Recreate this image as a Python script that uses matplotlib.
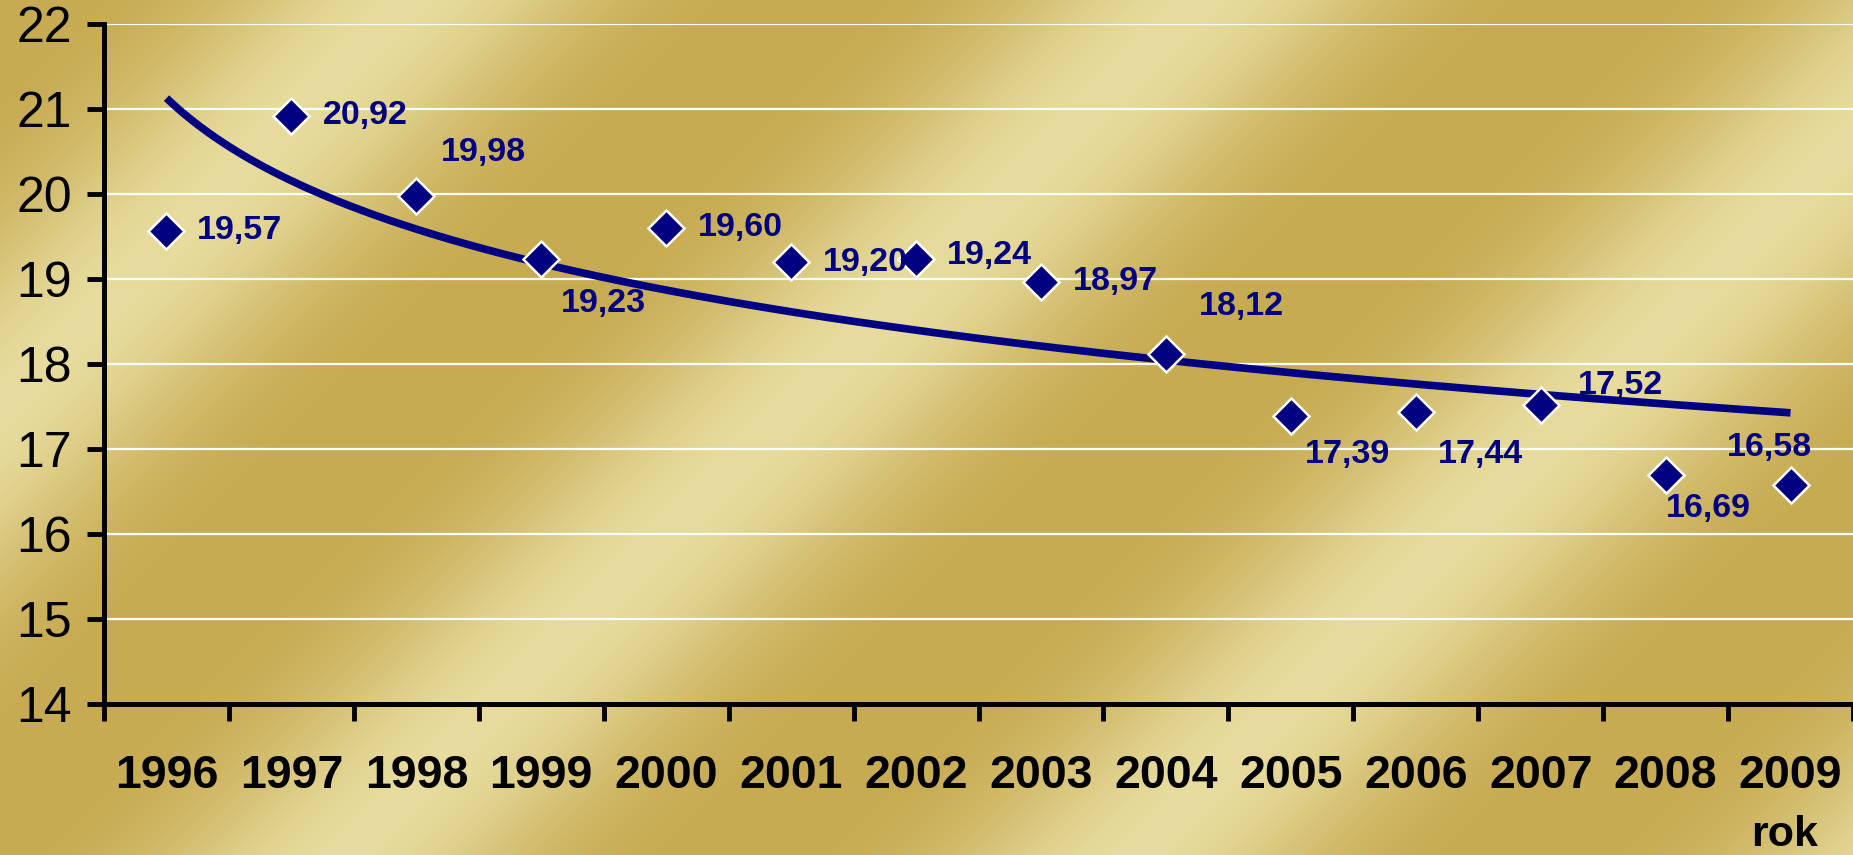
import numpy as np
import matplotlib
matplotlib.use('Agg')
import matplotlib.pyplot as plt
from matplotlib.ticker import FixedLocator

plt.rcParams['font.family'] = ['Liberation Sans', 'DejaVu Sans']

years = ['1996', '1997', '1998', '1999', '2000', '2001', '2002',
         '2003', '2004', '2005', '2006', '2007', '2008', '2009']
values = [19.57, 20.92, 19.98, 19.23, 19.60, 19.20, 19.24,
          18.97, 18.12, 17.39, 17.44, 17.52, 16.69, 16.58]
value_labels = ['19,57', '20,92', '19,98', '19,23', '19,60', '19,20', '19,24',
                '18,97', '18,12', '17,39', '17,44', '17,52', '16,69', '16,58']

# label offsets in points (dx, dy) relative to the marker, left edge of text
label_offsets = [(22, 0), (23, 0), (18, 31), (14, -32), (23, 0), (23, 0), (22, 2),
                 (23, 0), (24, 34), (10, -28), (16, -31), (27, 14), (0, -24), (-46, 27)]

navy = '#000080'
W, H, DPI = 1853, 855, 100

fig = plt.figure(figsize=(W / DPI, H / DPI), dpi=DPI)

# gold diagonal gradient background
bg = fig.add_axes([0, 0, 1, 1])
yy, xx = np.mgrid[0:H, 0:W]
s = xx + yy
w = 0.5 + 0.5 * np.cos(2 * np.pi * (s - 410) / 790.0)
w = w ** 1.8
dark = np.array([199, 171, 82]) / 255.0
light = np.array([231, 220, 158]) / 255.0
img = dark[None, None, :] + w[..., None] * (light - dark)[None, None, :]
bg.imshow(img, aspect='auto', extent=[0, 1, 0, 1], origin='upper')
bg.set_axis_off()

ax = fig.add_axes([104 / W, 1 - 704 / H, 1 - 104 / W, (704 - 24) / H])
ax.patch.set_alpha(0)

x = np.arange(len(years))

# logarithmic trend line (Excel style) fitted to the data
t = x + 1
b, a = np.polyfit(np.log(t), values, 1)
tt = np.linspace(1, len(years), 200)
ax.plot(tt - 1, a + b * np.log(tt), color=navy, lw=5.5, zorder=3, solid_capstyle='butt')

ax.plot(x, values, linestyle='none', marker='D', ms=18.5, mfc=navy, mec='white',
        mew=1.8, zorder=4)

for xi, v, lab, (dx, dy) in zip(x, values, value_labels, label_offsets):
    ax.annotate(lab, (xi, v), xytext=(dx, dy), textcoords='offset points',
                ha='left', va='center', fontsize=24.5, fontweight='bold',
                color=navy, zorder=5)

ax.set_ylim(14, 22)
ax.set_xlim(-0.5, len(years) - 0.5)
ax.set_yticks(range(14, 23))
ax.yaxis.grid(True, color='white', lw=1.6)
ax.set_axisbelow(True)

ax.xaxis.set_major_locator(FixedLocator(np.arange(len(years) + 1) - 0.5))
ax.xaxis.set_minor_locator(FixedLocator(x))
ax.set_xticklabels([], minor=False)
ax.set_xticklabels(years, minor=True, fontsize=33.5, fontweight='bold')
ax.tick_params(axis='x', which='major', length=12, width=3.5, direction='out')
ax.tick_params(axis='x', which='minor', length=0, pad=36)
ax.tick_params(axis='y', length=12, width=3.5, labelsize=36, pad=11)

for side in ['top', 'right']:
    ax.spines[side].set_visible(False)
for side in ['left', 'bottom']:
    ax.spines[side].set_linewidth(3.6)
    ax.spines[side].set_zorder(6)

fig.text(1785 / W, 1 - 835 / H, 'rok', ha='center', va='center',
         fontsize=31, fontweight='bold')

fig.savefig('out.png', dpi=DPI)
